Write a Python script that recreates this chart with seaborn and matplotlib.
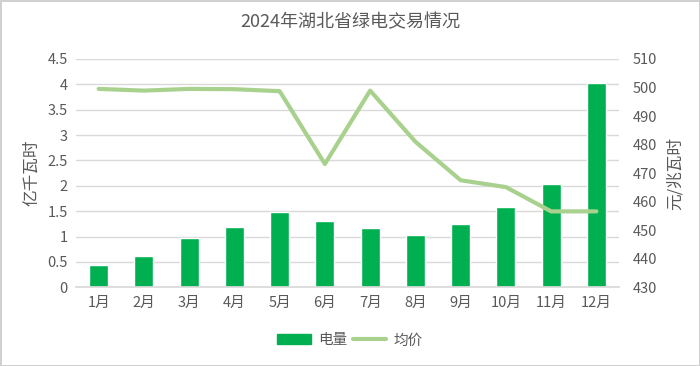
import matplotlib
matplotlib.use("Agg")
import matplotlib.pyplot as plt
import seaborn as sns
import pandas as pd
from matplotlib.patches import Patch
from matplotlib.lines import Line2D

months = ["1月", "2月", "3月", "4月", "5月", "6月", "7月", "8月", "9月", "10月", "11月", "12月"]
volume = [0.43, 0.62, 0.97, 1.18, 1.49, 1.31, 1.17, 1.04, 1.25, 1.58, 2.03, 4.03]
price = [499.5, 498.9, 499.5, 499.4, 498.7, 473.2, 498.9, 481.0, 467.5, 465.1, 456.6, 456.6]
left_ticks = [0, 0.5, 1, 1.5, 2, 2.5, 3, 3.5, 4, 4.5]
left_labels = ["0", "0.5", "1", "1.5", "2", "2.5", "3", "3.5", "4", "4.5"]
right_ticks = [430, 440, 450, 460, 470, 480, 490, 500, 510]

df = pd.DataFrame({"month": months, "volume": volume, "price": price})

sns.set_theme(style="white")
plt.rcParams['font.family'] = ['Noto Sans CJK SC', 'DejaVu Sans']

text_c = "#595959"
grid_c = "#d9d9d9"
bar_c = "#00b050"
line_c = "#a9d18e"

fig = plt.figure(figsize=(7, 3.66), dpi=100)
fig.patch.set_edgecolor("#d0d0d0")
fig.patch.set_linewidth(2)
ax = fig.add_axes([0.1086, 0.215, 0.7757, 0.624])

sns.barplot(data=df, x="month", y="volume", color=bar_c, width=0.42, saturation=1, ax=ax, zorder=2)
ax.set_ylim(0, 4.5)
ax.set_yticks(left_ticks)
ax.set_yticklabels(left_labels)
ax.yaxis.grid(True, color=grid_c, linewidth=1, zorder=0)
ax.set_axisbelow(True)
ax.set_xlim(-0.5, 11.5)
ax.set_xlabel("")
ax.set_ylabel("亿千瓦时", color=text_c, fontsize=12, labelpad=5)
for s in ax.spines.values():
    s.set_visible(False)
ax.spines["bottom"].set_visible(True)
ax.spines["bottom"].set_color(grid_c)
ax.tick_params(axis="both", colors=text_c, labelsize=10.5, length=0, pad=6)

ax2 = ax.twinx()
sns.lineplot(data=df, x="month", y="price", color=line_c, linewidth=3, ax=ax2, sort=False)
ax2.set_ylim(430, 510)
ax2.set_yticks(right_ticks)
ax2.set_ylabel("元/兆瓦时", color=text_c, fontsize=12, labelpad=7, rotation=90)
ax2.set_xlim(-0.5, 11.5)
for s in ax2.spines.values():
    s.set_visible(False)
ax2.tick_params(axis="y", colors=text_c, labelsize=10.5, length=0, pad=10)

fig.suptitle("2024年湖北省绿电交易情况", x=0.5, y=0.965, fontsize=13, color=text_c)

handles = [Patch(facecolor=bar_c, edgecolor=bar_c),
           Line2D([0], [0], color=line_c, linewidth=3)]
fig.legend(handles, ["电量", "均价"], loc="center", bbox_to_anchor=(0.5, 0.07), ncol=2,
           frameon=False, fontsize=10.5, labelcolor=text_c, handlelength=2.3, columnspacing=0.4,
           handletextpad=0.5)

fig.savefig("out.png", dpi=100)
